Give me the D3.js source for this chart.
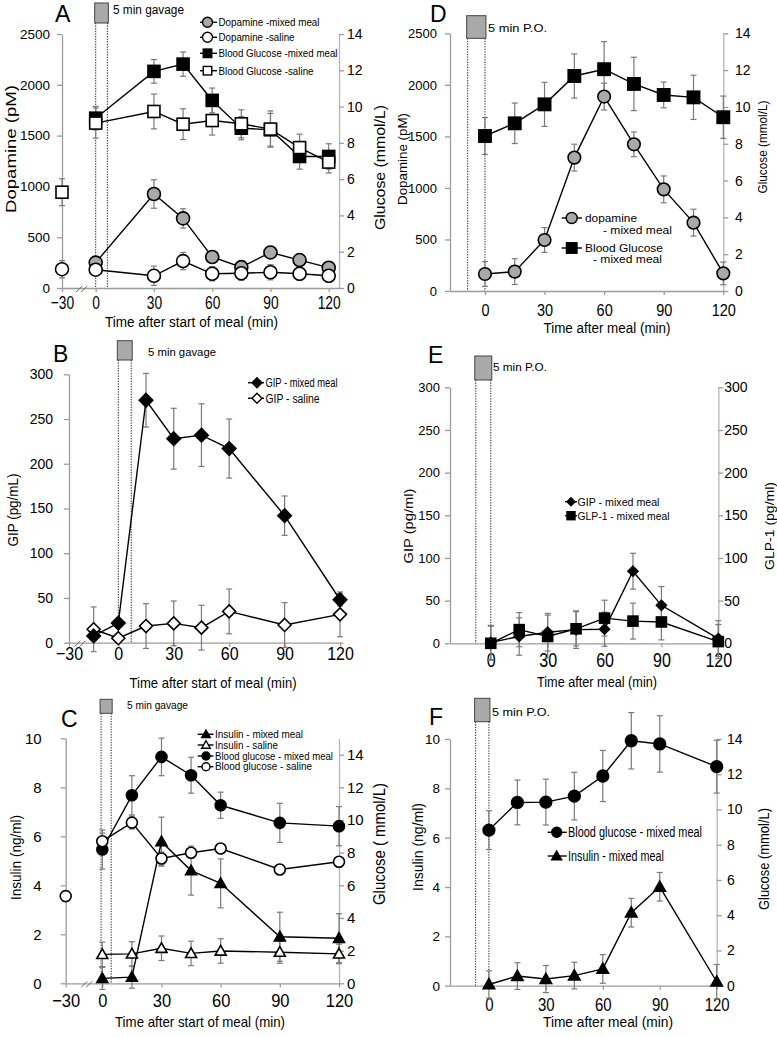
<!DOCTYPE html>
<html><head><meta charset="utf-8">
<script src="https://cdn.jsdelivr.net/npm/d3@7/dist/d3.min.js"></script>
<style>
html,body{margin:0;padding:0;background:#fff;}
svg{display:block;}
text{font-family:"Liberation Sans",Arial,sans-serif;fill:#000;}
</style></head><body>
<svg id="chart" width="777" height="1037"></svg>
<script>
// ================= DATA =================
// Panel A – dopamine & glucose, gavage
const aTimeMixed  = [0,30,45,60,75,90,105,120];
const aTimeSaline = [-30,0,30,45,60,75,90,105,120];
const aDopMixed     = [250,925,685,305,205,350,275,200];
const aDopMixedErr  = [50,140,95,60,50,60,55,50];
const aDopSaline    = [185,180,120,265,140,145,155,140,120];
const aDopSalineErr = [85,60,95,85,70,70,75,65,65];
const aGluMixed     = [9.36,11.94,12.34,10.34,8.81,8.72,7.25,7.25];
const aGluMixedErr  = [0.65,0.65,0.67,0.68,0.64,0.9,0.7,0.7];
const aGluSaline    = [5.28,9.09,9.73,9.03,9.23,9.05,8.76,7.74,6.94];
const aGluSalineErr = [0.74,0.83,0.96,0.85,0.8,0.77,1.0,0.74,0.6];
const aLegend = ["Dopamine -mixed meal","Dopamine -saline","Blood Glucose -mixed meal","Blood Glucose -saline"];

// Panel B – GIP, gavage
const bTime = [-15,0,15,30,45,60,90,120];
const bGipMixed     = [7.5,22,271,228,232,217,142,48];
const bGipMixedErr  = [5,4,30,34,35,33,22,7];
const bGipSaline    = [15,5,18.6,21.6,16.8,35,19.8,31.7];
const bGipSalineErr = [25,4,25,25,25,25,25,25];
const bLegend = ["GIP - mixed meal","GIP - saline"];

// Panel C – insulin & glucose, gavage
const cTimeMixed   = [0,15,30,45,60,90,120];
const cTimeGluSal  = [-30,0,15,30,45,60,90,120];
const cInsMixed     = [0.2,0.25,5.78,4.6,4.08,1.9,1.84];
const cInsMixedErr  = [0.45,0.45,1.0,1.0,1.0,1.0,1.0];
const cInsSaline    = [1.18,1.2,1.43,1.22,1.32,1.27,1.2];
const cInsSalineErr = [0.5,0.5,0.5,0.5,0.5,0.45,0.4];
const cGluMixed     = [8.19,11.51,13.86,12.74,10.9,9.82,9.62];
const cGluMixedErr  = [1.2,1.2,1.15,1.1,0.8,1.2,1.2];
const cGluSaline    = [5.34,8.7,9.84,7.64,7.99,8.25,6.97,7.44];
const cGluSalineErr = [0.3,0.5,0.4,0.4,0.3,0.2,0.3,0.3];
const cLegend = ["Insulin - mixed meal","Insulin - saline","Blood glucose - mixed meal","Blood glucose - saline"];

// Panel D – dopamine & glucose, P.O.
const dTime = [0,15,30,45,60,75,90,105,120];
const dDop     = [165,188,495,1294,1886,1423,986,663,171];
const dDopErr  = [120,125,120,130,130,120,130,130,110];
const dGlu     = [8.42,9.11,10.14,11.68,12.05,11.25,10.65,10.52,9.44];
const dGluErr  = [1.0,1.1,1.2,1.2,1.5,1.45,0.7,1.2,1.15];
const dLegend = ["dopamine","- mixed meal","Blood Glucose","-  mixed meal"];

// Panel E – GIP & GLP-1, P.O.
const eTime = [0,15,30,45,60,75,90,120];
const eGip     = [1,8,13,16,16.5,84.5,44.5,5.5];
const eGipErr  = [20,22,22,22,20,21,22,21];
const eGlp     = [0,16,8,17,29.5,26,25,2];
const eGlpErr  = [20,20,25,20,21,21,21,20];
const eLegend = ["GIP - mixed meal","GLP-1 - mixed meal"];

// Panel F – glucose & insulin, P.O.
const fTime = [0,15,30,45,60,75,90,120];
const fGlu     = [8.83,10.4,10.42,10.76,11.9,13.9,13.72,12.43];
const fGluErr  = [1.1,1.27,1.3,1.35,1.45,1.6,1.6,1.5];
const fIns     = [0.05,0.39,0.27,0.41,0.68,2.96,4.01,0.16];
const fInsErr  = [0.55,0.54,0.55,0.54,0.58,0.58,0.58,0.7];
const fLegend = ["Blood glucose  - mixed meal","Insulin - mixed meal"];

// Ticks
const dopTicks = [0,500,1000,1500,2000,2500];
const gluTicks = [0,2,4,6,8,10,12,14];
const gipTicks = [0,50,100,150,200,250,300];
const insTicks = [0,2,4,6,8,10];
const timeTicksGav = [-30,0,30,60,90,120];
const timeTicksPO  = [0,30,60,90,120];

// ================= DRAWING =================
const FONT = '"Liberation Sans",Arial,sans-serif';
const AX = '#9c9c9c';
const GRAY = '#a9a9a9';
const svg = d3.select('#chart');

function txt(g, s, x, y, o) {
  o = o || {};
  const t = g.append('text').attr('x', x).attr('y', y).text(s)
    .attr('font-size', o.fs || 12).attr('text-anchor', o.anchor || 'start')
    .attr('font-family', FONT);
  if (o.len) t.attr('textLength', o.len).attr('lengthAdjust', 'spacingAndGlyphs');
  if (o.dy) t.attr('dy', o.dy);
  if (o.rot) t.attr('transform', `rotate(-90 ${x} ${y})`);
  return t;
}

function marker(g, type, cx, cy, s, fill, sw) {
  const h = s / 2;
  let el;
  if (type === 'circle') el = g.append('circle').attr('cx', cx).attr('cy', cy).attr('r', h);
  else if (type === 'square') el = g.append('rect').attr('x', cx - h).attr('y', cy - h).attr('width', s).attr('height', s);
  else if (type === 'diamond') el = g.append('path').attr('d', `M${cx},${cy - h}L${cx + h},${cy}L${cx},${cy + h}L${cx - h},${cy}Z`);
  else el = g.append('path').attr('d', `M${cx},${cy - h}L${cx + h},${cy + h * 0.75}L${cx - h},${cy + h * 0.75}Z`);
  el.attr('fill', fill).attr('stroke', '#000').attr('stroke-width', sw || 1.6);
  return el;
}

function styleAxis(sel) {
  sel.attr('font-family', FONT);
  sel.select('.domain').attr('stroke', AX).attr('stroke-width', 1.3);
  sel.selectAll('.tick line').attr('stroke', AX).attr('stroke-width', 1.3);
  sel.selectAll('text').attr('fill', '#000');
}

function drawPanel(p) {
  const g = svg.append('g');
  const x = d3.scaleLinear().domain(p.xDom).range(p.xRng);
  const yL = d3.scaleLinear().domain(p.yLDom).range(p.yRng);
  const yR = p.yRDom ? d3.scaleLinear().domain(p.yRDom).range(p.yRng) : null;
  const x0 = p.xRng[0], x1 = p.xRng[p.xRng.length - 1], yb = p.yRng[0];

  // gavage / P.O. window
  const gx0 = x(p.gav[0]), gx1 = x(p.gav[1]);
  [gx0, gx1].forEach(v => g.append('line').attr('x1', v).attr('x2', v)
    .attr('y1', p.box[1]).attr('y2', yb).attr('stroke', '#222').attr('stroke-width', 1)
    .attr('stroke-dasharray', '1.3,1.3'));
  g.append('rect').attr('x', gx0 - 1).attr('y', p.box[0]).attr('width', gx1 - gx0 + 2)
    .attr('height', p.box[1] - p.box[0]).attr('fill', GRAY).attr('stroke', '#444').attr('stroke-width', 1);
  txt(g, p.gavText.s, p.gavText.x, p.gavText.y, {fs: p.gavText.fs, len: p.gavText.len});

  // axes
  const gL = g.append('g').attr('transform', `translate(${x0},0)`)
    .call(d3.axisLeft(yL).tickValues(p.yLTicks).tickSize(5).tickSizeOuter(0).tickPadding(p.ylOff - 5).tickFormat(d3.format('d')));
  styleAxis(gL);
  gL.selectAll('text').attr('font-size', p.ylFs);
  if (yR) {
    const gR = g.append('g').attr('transform', `translate(${x1},0)`)
      .call(d3.axisRight(yR).tickValues(p.yRTicks).tickSize(5).tickSizeOuter(0).tickPadding(p.yrOff - 5).tickFormat(d3.format('d')));
    styleAxis(gR);
    gR.select('.domain').attr('stroke', '#b5b5b5');
    gR.selectAll('text').attr('font-size', p.yrFs);
  }
  const gX = g.append('g').attr('transform', `translate(0,${yb})`)
    .call(d3.axisBottom(x).tickValues(p.xTicks).tickSize(4).tickSizeOuter(0).tickFormat(d3.format('d')));
  styleAxis(gX);
  gX.selectAll('text').attr('font-size', p.xFs).attr('dy', null)
    .attr('y', p.xOff / p.xSy).attr('transform', `scale(1,${p.xSy})`);

  // axis break
  if (p.brk) {
    [-2.5, 2.5].forEach(o => g.append('line')
      .attr('x1', p.brk + o - 3).attr('y1', yb + 4).attr('x2', p.brk + o + 3).attr('y2', yb - 2)
      .attr('stroke', '#666').attr('stroke-width', 1));
  }

  // series
  const S = p.series.map(s => {
    const y = s.ax === 'R' ? yR : yL;
    return {s, y, pts: s.t.map((t, i) => ({t, v: s.v[i], e: s.e[i]}))};
  });
  // error bars
  S.forEach(({s, y, pts}) => pts.forEach(d => {
    const cx = x(d.t), ya = y(d.v + d.e), yb2 = y(d.v - d.e);
    const eg = g.append('g').attr('stroke', '#7a7a7a').attr('stroke-width', 1.2);
    eg.append('line').attr('x1', cx).attr('x2', cx).attr('y1', ya).attr('y2', yb2);
    eg.append('line').attr('x1', cx - 3).attr('x2', cx + 3).attr('y1', ya).attr('y2', ya);
    eg.append('line').attr('x1', cx - 3).attr('x2', cx + 3).attr('y1', yb2).attr('y2', yb2);
  }));
  // lines
  S.forEach(({s, y, pts}) => {
    const line = d3.line().x(d => x(d.t)).y(d => y(d.v));
    g.append('path').datum(pts.filter(d => d.t >= s.joinFrom))
      .attr('d', line).attr('fill', 'none').attr('stroke', '#000').attr('stroke-width', 1.4);
  });
  // markers
  S.forEach(({s, y, pts}) => pts.forEach(d => marker(g, s.shape, x(d.t), y(d.v), s.size, s.fill, s.sw)));

  // titles
  p.titles.forEach(t => txt(g, t.s, t.x, t.y, {fs: t.fs, len: t.len, anchor: 'middle', rot: t.rot, dy: t.rot ? '0.35em' : null}));
  txt(g, p.letter.s, p.letter.x, p.letter.y, {fs: 23});

  // legend
  const L = p.legend;
  L.items.forEach((it, i) => {
    const ly = L.ys[i];
    g.append('line').attr('x1', L.lx1).attr('x2', L.lx2).attr('y1', ly).attr('y2', ly)
      .attr('stroke', '#000').attr('stroke-width', 1.4);
    marker(g, it.shape, L.mx, ly, it.size, it.fill, 1.4);
    txt(g, it.text, L.tx, ly, {fs: L.fs, len: it.len, dy: '0.35em'});
    if (it.sub) txt(g, it.sub.text, it.sub.x, it.sub.y, {fs: L.fs, len: it.sub.len, dy: '0.35em'});
  });
}

const panels = [
  { // A
    xDom: [-30, 0, 125.3], xRng: [62, 95.7, 339], yRng: [288, 34],
    yLDom: [0, 2500], yLTicks: dopTicks, yRDom: [0, 14], yRTicks: gluTicks, xTicks: timeTicksGav,
    ylFs: 13.5, ylOff: 12, yrFs: 14, yrOff: 8, xFs: 13.8, xSy: 1.33, xOff: 21.5,
    brk: 81.7, gav: [0, 6], box: [3, 23],
    gavText: {s: '5 min gavage', x: 113, y: 13.5, fs: 12, len: 71},
    letter: {s: 'A', x: 55, y: 21.7},
    titles: [
      {s: 'Dopamine (pM)', x: 10.5, y: 149, fs: 15.5, len: 128, rot: true},
      {s: 'Glucose (mmol/L)', x: 379.5, y: 167.5, fs: 15.5, len: 125, rot: true},
      {s: 'Time after start of meal (min)', x: 191.5, y: 327, fs: 14, len: 173}
    ],
    series: [
      {t: aTimeMixed, v: aDopMixed, e: aDopMixedErr, ax: 'L', shape: 'circle', fill: GRAY, size: 13, joinFrom: 0},
      {t: aTimeSaline, v: aDopSaline, e: aDopSalineErr, ax: 'L', shape: 'circle', fill: '#fff', size: 13, joinFrom: 0},
      {t: aTimeMixed, v: aGluMixed, e: aGluMixedErr, ax: 'R', shape: 'square', fill: '#000', size: 12, joinFrom: 0},
      {t: aTimeSaline, v: aGluSaline, e: aGluSalineErr, ax: 'R', shape: 'square', fill: '#fff', size: 12, joinFrom: 0}
    ],
    legend: {lx1: 200, lx2: 217, mx: 207.5, tx: 218.5, fs: 11, ys: [22.3, 37.3, 53.3, 70.7], items: [
      {text: aLegend[0], shape: 'circle', fill: GRAY, size: 10, len: 101},
      {text: aLegend[1], shape: 'circle', fill: '#fff', size: 10, len: 76},
      {text: aLegend[2], shape: 'square', fill: '#000', size: 8.5, len: 119},
      {text: aLegend[3], shape: 'square', fill: '#fff', size: 8.5, len: 95}
    ]}
  },
  { // B
    xDom: [-30, 0, 121.6], xRng: [69, 118.3, 343], yRng: [642.7, 374.3],
    yLDom: [0, 300], yLTicks: gipTicks, xTicks: timeTicksGav,
    ylFs: 14, ylOff: 16, xFs: 16, xSy: 1.2, xOff: 17.5,
    brk: 80, gav: [0, 7], box: [340.7, 360],
    gavText: {s: '5 min gavage', x: 148, y: 356, fs: 11.5, len: 68},
    letter: {s: 'B', x: 53, y: 362},
    titles: [
      {s: 'GIP (pg/mL)', x: 13.5, y: 510, fs: 14, len: 73, rot: true},
      {s: 'Time after start of meal (min)', x: 213, y: 687.5, fs: 14.5, len: 167}
    ],
    series: [
      {t: bTime, v: bGipSaline, e: bGipSalineErr, ax: 'L', shape: 'diamond', fill: '#fff', size: 13, joinFrom: -30},
      {t: bTime, v: bGipMixed, e: bGipMixedErr, ax: 'L', shape: 'diamond', fill: '#000', size: 13.5, joinFrom: -30}
    ],
    legend: {lx1: 248, lx2: 264, mx: 257, tx: 265.5, fs: 12, ys: [382.7, 398.3], items: [
      {text: bLegend[0], shape: 'diamond', fill: '#000', size: 10, len: 72},
      {text: bLegend[1], shape: 'diamond', fill: '#fff', size: 10, len: 54}
    ]}
  },
  { // C
    xDom: [-30, 0, 120], xRng: [65.7, 102.3, 339], yRng: [983.3, 738.3],
    yLDom: [0, 10], yLTicks: insTicks, yRDom: [0, 15], yRTicks: gluTicks, xTicks: timeTicksGav,
    ylFs: 15, ylOff: 24, yrFs: 15, yrOff: 8, xFs: 16.5, xSy: 1.1, xOff: 23.4,
    brk: 86.7, gav: [-1, 4.5], box: [699.3, 713.3],
    gavText: {s: '5 min gavage', x: 127, y: 708.5, fs: 11, len: 61},
    letter: {s: 'C', x: 61, y: 727},
    titles: [
      {s: 'Insulin (ng/ml)', x: 16.5, y: 857.5, fs: 14, len: 85, rot: true},
      {s: 'Glucose ( mmol/L)', x: 379.5, y: 844, fs: 16, len: 122, rot: true},
      {s: 'Time after start of meal (min)', x: 200, y: 1027, fs: 15, len: 170}
    ],
    series: [
      {t: cTimeMixed, v: cInsMixed, e: cInsMixedErr, ax: 'L', shape: 'triangle', fill: '#000', size: 11, joinFrom: 0},
      {t: cTimeMixed, v: cInsSaline, e: cInsSalineErr, ax: 'L', shape: 'triangle', fill: '#fff', size: 11, joinFrom: 0},
      {t: cTimeMixed, v: cGluMixed, e: cGluMixedErr, ax: 'R', shape: 'circle', fill: '#000', size: 11, joinFrom: 0},
      {t: cTimeGluSal, v: cGluSaline, e: cGluSalineErr, ax: 'R', shape: 'circle', fill: '#fff', size: 11, joinFrom: 0}
    ],
    legend: {lx1: 197.7, lx2: 213.5, mx: 206, tx: 215, fs: 10.5, ys: [734.3, 745, 756, 766.7], items: [
      {text: cLegend[0], shape: 'triangle', fill: '#000', size: 8.5, len: 88},
      {text: cLegend[1], shape: 'triangle', fill: '#fff', size: 8.5, len: 63},
      {text: cLegend[2], shape: 'circle', fill: '#000', size: 8, len: 118},
      {text: cLegend[3], shape: 'circle', fill: '#fff', size: 8, len: 97}
    ]}
  },
  { // D
    xDom: [-17.6, 120], xRng: [450, 723.3], yRng: [291, 33.3],
    yLDom: [0, 2500], yLTicks: dopTicks, yRDom: [0, 14], yRTicks: gluTicks, xTicks: timeTicksPO,
    ylFs: 13, ylOff: 13, yrFs: 14, yrOff: 11.7, xFs: 14.5, xSy: 1.2, xOff: 25.5,
    brk: null, gav: [-8.7, 0], box: [15.7, 38.3],
    gavText: {s: '5  min P.O.', x: 488, y: 31.5, fs: 11.5, len: 59},
    letter: {s: 'D', x: 430, y: 22},
    titles: [
      {s: 'Dopamine (pM)', x: 402.5, y: 159, fs: 13.5, len: 92, rot: true},
      {s: 'Glucose (mmol/L)', x: 762, y: 147, fs: 13.5, len: 93, rot: true},
      {s: 'Time after meal (min)', x: 607, y: 332.5, fs: 14, len: 127}
    ],
    series: [
      {t: dTime, v: dDop, e: dDopErr, ax: 'L', shape: 'circle', fill: GRAY, size: 12.6, joinFrom: -30},
      {t: dTime, v: dGlu, e: dGluErr, ax: 'R', shape: 'square', fill: '#000', size: 12.3, joinFrom: -30}
    ],
    legend: {lx1: 561.7, lx2: 582, mx: 571.7, tx: 585, fs: 11.5, ys: [218, 248], items: [
      {text: dLegend[0], shape: 'circle', fill: GRAY, size: 11, len: 52, sub: {text: dLegend[1], x: 603, y: 229.5, len: 69}},
      {text: dLegend[2], shape: 'square', fill: '#000', size: 10.5, len: 78, sub: {text: dLegend[3], x: 593, y: 258.5, len: 69}}
    ]}
  },
  { // E
    xDom: [-21.5, 120], xRng: [450, 718.3], yRng: [643.3, 387.3],
    yLDom: [0, 300], yLTicks: gipTicks, yRDom: [0, 300], yRTicks: gipTicks, xTicks: timeTicksPO,
    ylFs: 13, ylOff: 10, yrFs: 14, yrOff: 6, xFs: 16, xSy: 1.25, xOff: 23.7,
    brk: null, gav: [-7.9, 0], box: [356, 380],
    gavText: {s: '5  min P.O.', x: 493, y: 371, fs: 11, len: 54},
    letter: {s: 'E', x: 428, y: 363},
    titles: [
      {s: 'GIP (pg/ml)', x: 408, y: 526, fs: 13.5, len: 75, rot: true},
      {s: 'GLP-1 (pg/ml)', x: 769, y: 526, fs: 13.5, len: 88, rot: true},
      {s: 'Time after meal (min)', x: 597, y: 686.5, fs: 14, len: 120}
    ],
    series: [
      {t: eTime, v: eGip, e: eGipErr, ax: 'L', shape: 'diamond', fill: '#000', size: 10, joinFrom: -30},
      {t: eTime, v: eGlp, e: eGlpErr, ax: 'R', shape: 'square', fill: '#000', size: 10, joinFrom: -30}
    ],
    legend: {lx1: 565, lx2: 577, mx: 571, tx: 577.5, fs: 11, ys: [501.7, 515.7], items: [
      {text: eLegend[0], shape: 'diamond', fill: '#000', size: 8, len: 82},
      {text: eLegend[1], shape: 'square', fill: '#000', size: 8, len: 92}
    ]}
  },
  { // F
    xDom: [-20.5, 120], xRng: [450, 716.7], yRng: [985.7, 739],
    yLDom: [0, 10], yLTicks: insTicks, yRDom: [0, 14], yRTicks: gluTicks, xTicks: timeTicksPO,
    ylFs: 13.5, ylOff: 10, yrFs: 14, yrOff: 10.3, xFs: 15, xSy: 1.2, xOff: 25,
    brk: null, gav: [-7, 0], box: [698.3, 721.7],
    gavText: {s: '5  min P.O.', x: 492, y: 716, fs: 11.5, len: 58},
    letter: {s: 'F', x: 429, y: 725},
    titles: [
      {s: 'Insulin (ng/ml)', x: 418, y: 847, fs: 14, len: 88, rot: true},
      {s: 'Glucose (mmol/L)', x: 764, y: 859, fs: 14, len: 102, rot: true},
      {s: 'Time after meal (min)', x: 608, y: 1027, fs: 14, len: 130}
    ],
    series: [
      {t: fTime, v: fGlu, e: fGluErr, ax: 'R', shape: 'circle', fill: '#000', size: 11.7, joinFrom: -30},
      {t: fTime, v: fIns, e: fInsErr, ax: 'L', shape: 'triangle', fill: '#000', size: 11.5, joinFrom: -30}
    ],
    legend: {lx1: 547.7, lx2: 566.7, mx: 556.7, tx: 568, fs: 14, ys: [832.3, 856], items: [
      {text: fLegend[0], shape: 'circle', fill: '#000', size: 10, len: 134},
      {text: fLegend[1], shape: 'triangle', fill: '#000', size: 10, len: 96}
    ]}
  }
];

panels.forEach(drawPanel);
</script>
</body></html>
